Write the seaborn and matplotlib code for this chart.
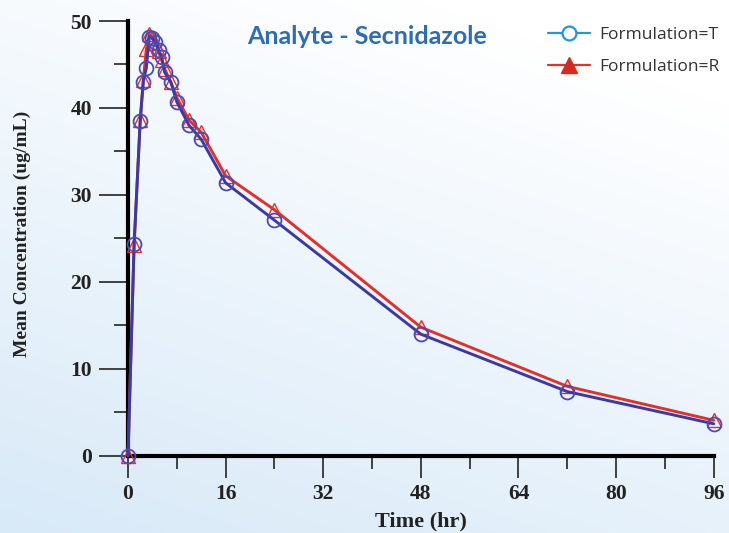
import numpy as np
import pandas as pd
import seaborn as sns
import matplotlib.pyplot as plt
from matplotlib.lines import Line2D
from matplotlib.ticker import MultipleLocator

# mean plasma concentrations
time_hr = [0, 1, 2, 2.5, 3, 3.5, 4, 4.5, 5, 5.5, 6, 7, 8, 10, 12, 16, 24, 48, 72, 96]
conc_T = [0, 24.4, 38.5, 43.0, 44.6, 48.2, 48.0, 47.6, 46.7, 45.9, 44.1, 43.0, 40.7, 38.0, 36.4, 31.4, 27.1, 14.0, 7.4, 3.7]
conc_R = [0, 24.2, 38.6, 43.2, 46.8, 48.5, 48.0, 47.5, 46.5, 45.5, 44.5, 43.0, 41.2, 38.6, 37.2, 32.2, 28.3, 14.8, 8.0, 4.1]

df = pd.DataFrame({'time': time_hr * 2,
                   'conc': conc_T + conc_R,
                   'formulation': ['T'] * len(time_hr) + ['R'] * len(time_hr)})

sns.set_style('white')
plt.rcParams['font.family'] = ['Liberation Serif', 'DejaVu Serif']

fig = plt.figure(figsize=(7.29, 5.33), dpi=100)

# light blue gradient background
bg = fig.add_axes([0, 0, 1, 1], zorder=-10)
yy, xx = np.mgrid[0:1:200j, 0:1:200j]
t = np.clip(0.75 * yy + 0.35 * (1 - xx) - 0.15, 0, 1)
top = np.array([1.0, 1.0, 1.0])
bot = np.array([0.84, 0.91, 0.97])
img = top[None, None, :] * (1 - t[..., None]) + bot[None, None, :] * t[..., None]
bg.imshow(img, aspect='auto', origin='upper', extent=[0, 1, 0, 1])
bg.axis('off')

ax = fig.add_axes([0.1756, 0.1445, 0.8034, 0.8161])
ax.patch.set_alpha(0)

sns.lineplot(data=df[df['formulation'] == 'R'], x='time', y='conc', ax=ax,
             color='#e3302a', lw=2.1, marker='^', markersize=10,
             mfc='none', mec='#e3302a', mew=1.0, clip_on=False, zorder=3)
sns.lineplot(data=df[df['formulation'] == 'T'], x='time', y='conc', ax=ax,
             color='#3a3aa4', lw=2.1, marker='o', markersize=10,
             mfc='none', mec='#4a4ab8', mew=1.3, clip_on=False, zorder=4)

ax.set_xlim(0, 96)
ax.set_ylim(0, 50)
ax.xaxis.set_major_locator(MultipleLocator(16))
ax.xaxis.set_minor_locator(MultipleLocator(8))
ax.yaxis.set_major_locator(MultipleLocator(10))
ax.yaxis.set_minor_locator(MultipleLocator(5))

for s in ['top', 'right']:
    ax.spines[s].set_visible(False)
for s in ['left', 'bottom']:
    ax.spines[s].set_linewidth(3)
    ax.spines[s].set_color('black')
    ax.spines[s].set_zorder(2)

ax.tick_params(axis='y', which='major', direction='out', length=21, width=1.3,
               color='#333333', labelsize=15.5, pad=5, left=True)
ax.tick_params(axis='y', which='minor', direction='out', length=10, width=1.3,
               color='#333333', left=True)
ax.tick_params(axis='x', which='major', direction='out', length=16, width=1.3,
               color='#333333', labelsize=15.5, pad=4, bottom=True)
ax.tick_params(axis='x', which='minor', direction='out', length=9, width=1.3,
               color='#333333', bottom=True)
for lab in ax.get_xticklabels() + ax.get_yticklabels():
    lab.set_fontweight('bold')
    lab.set_color('#222222')

ax.set_xlabel('Time (hr)', fontsize=16, fontweight='bold', color='#222222')
ax.xaxis.set_label_coords(0.5, -0.128)
ax.set_ylabel('Mean Concentration (ug/mL)', fontsize=14, fontweight='bold',
              color='#222222')
ax.yaxis.set_label_coords(-0.165, 0.51)

fig.text(0.503, 0.932, 'Analyte - Secnidazole', family=['Lato', 'DejaVu Sans'],
         fontsize=18, fontweight='bold', color='#2e6db5', ha='center', va='center')

handles = [Line2D([], [], color='#2196e0', lw=1.6, marker='o', markersize=10,
                  mfc='white', mec='#2196e0', mew=1.6),
           Line2D([], [], color='#e3302a', lw=1.6, marker='^', markersize=12,
                  mfc='#d42a20', mec='#d42a20')]
leg = fig.legend(handles, ['Formulation=T', 'Formulation=R'], loc='upper left',
                 bbox_to_anchor=(0.752, 0.95), frameon=False, handlelength=2.4,
                 handletextpad=0.55, borderpad=0, borderaxespad=0,
                 labelspacing=0.9, prop={'family': ['Open Sans', 'DejaVu Sans'], 'size': 12.5})
for txt in leg.get_texts():
    txt.set_color('#333333')

fig.savefig('out.png', dpi=100)
